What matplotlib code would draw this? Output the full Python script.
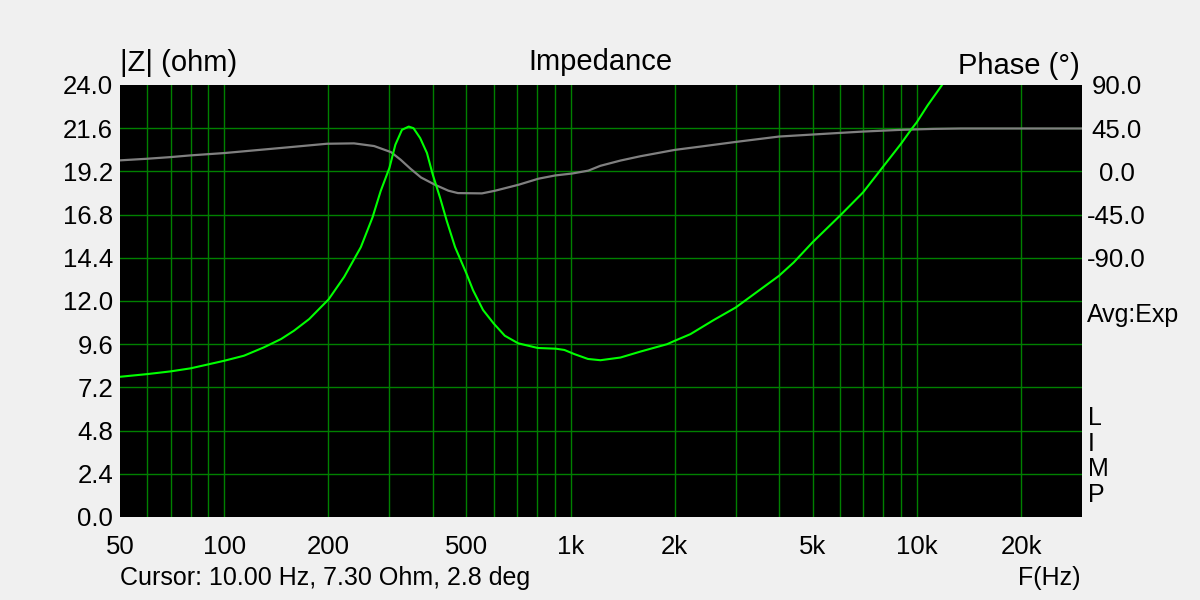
import numpy as np
import matplotlib
matplotlib.use('Agg')
from matplotlib import pyplot as plt

plt.rcParams['font.family'] = ['Liberation Sans', 'DejaVu Sans']

# impedance magnitude |Z| (ohm)
z_freq = [50, 60, 70, 80, 89, 100, 114, 130, 146, 159, 176, 190, 200, 222,
          248, 268, 283, 300, 312, 326, 341, 352, 368, 385, 400, 420, 439,
          464, 500, 523, 559, 600, 646, 706, 804, 908, 960, 1026, 1123, 1220,
          1394, 1592, 1900, 2000, 2220, 2590, 3000, 3470, 4000, 4410, 5000,
          6000, 7000, 8000, 9000, 9620, 10000, 10740, 11800]
z_ohm = [7.79, 7.94, 8.09, 8.26, 8.46, 8.68, 8.96, 9.42, 9.89, 10.35, 11.0,
         11.65, 12.08, 13.34, 14.99, 16.64, 18.11, 19.4, 20.68, 21.51, 21.69,
         21.6, 21.05, 20.22, 19.03, 17.74, 16.46, 15.0, 13.55, 12.6, 11.5,
         10.75, 10.07, 9.65, 9.39, 9.35, 9.28, 9.05, 8.78, 8.71, 8.86, 9.19,
         9.6, 9.79, 10.16, 10.94, 11.64, 12.53, 13.4, 14.14, 15.26, 16.74,
         18.04, 19.47, 20.73, 21.51, 21.93, 22.86, 23.97]

# phase (deg)
ph_freq = [50, 60, 70, 80, 100, 122, 152, 198, 237, 271, 303, 323, 345, 370,
           406, 444, 473, 555, 606, 708, 808, 904, 1011, 1126, 1219, 1394,
           1592, 2000, 2380, 3000, 4000, 5000, 6000, 7000, 9000, 11200, 13400,
           30000]
ph_deg = [11.5, 13.2, 14.9, 16.7, 19.1, 21.9, 25.0, 28.8, 29.2, 26.4, 20.1,
          12.2, 2.8, -6.3, -13.9, -20.1, -22.6, -22.9, -20.1, -13.9, -7.6,
          -4.2, -2.2, 0.8, 5.8, 11.3, 15.8, 22.4, 25.9, 30.7, 36.3, 38.4,
          40.1, 41.5, 43.3, 44.3, 44.7, 44.7]

x_grid = [60, 70, 80, 90, 100, 200, 300, 400, 500, 600, 700, 800, 900,
          1000, 2000, 3000, 4000, 5000, 6000, 7000, 8000, 9000, 10000, 20000]
x_ticks = [50, 100, 200, 500, 1000, 2000, 5000, 10000, 20000]
x_labels = ['50', '100', '200', '500', '1k', '2k', '5k', '10k', '20k']
z_ticks = np.arange(0, 24.01, 2.4)
ph_ticks = [90, 45, 0, -45, -90]
ph_labels = ['90.0', '45.0', '0.0', '-45.0', '-90.0']
ph_grid = np.arange(-315, 90, 45)

bg = '#f0f0f0'
grid_col = '#008000'
fs_tick = 18.5
fs_head = 21
fs_note = 18

fig = plt.figure(figsize=(12, 6), dpi=100, facecolor=bg)
ax = fig.add_axes([120 / 1200, 83 / 600, 962 / 1200, 432 / 600])
ax2 = ax.twinx()

# phase axis sits behind, carries the black background and the grid
ax.set_zorder(2)
ax.patch.set_visible(False)
ax2.patch.set_visible(True)
ax2.set_facecolor('black')

ax.set_xscale('log')
ax.set_xlim(50, 30000)
ax.set_ylim(0, 24)
ax2.set_ylim(-360, 90)

ax.set_xticks(x_ticks)
ax.set_xticklabels(x_labels)
ax.xaxis.set_minor_locator(matplotlib.ticker.NullLocator())
ax.set_yticks(z_ticks)
ax.set_yticklabels(['%.1f' % v for v in z_ticks])
ax.tick_params(axis='both', length=0, labelsize=fs_tick, colors='black')
ax.tick_params(axis='x', pad=13)
ax.tick_params(axis='y', pad=5)

ax2.set_yticks(ph_ticks)
ax2.set_yticklabels(ph_labels)
ax2.tick_params(axis='y', length=0, labelsize=fs_tick, pad=25)
for t in ax2.get_yticklabels():
    t.set_horizontalalignment('center')

# grid lines inside the frame only, behind both curves
for xv in x_grid:
    ax2.axvline(xv, color=grid_col, lw=1.0, zorder=1)
for pv in ph_grid:
    ax2.axhline(pv, color=grid_col, lw=1.0, zorder=1)

for a in (ax, ax2):
    for s in a.spines.values():
        s.set_visible(False)

ax2.plot(ph_freq, ph_deg, color='#808080', lw=1.6, zorder=3)
ax.plot(z_freq, z_ohm, color='#00ff00', lw=1.5, zorder=4)

fig.text(120 / 1200, 1 - 63 / 600, '|Z| (ohm)', fontsize=fs_head, va='center', ha='left')
fig.text(600 / 1200, 1 - 62 / 600, 'Impedance', fontsize=fs_head, va='center', ha='center')
fig.text(1080 / 1200, 1 - 66 / 600, 'Phase (°)', fontsize=fs_head, va='center', ha='right')
fig.text(1087 / 1200, 1 - 315 / 600, 'Avg:Exp', fontsize=fs_note, va='center', ha='left')
for i, ch in enumerate('LIMP'):
    fig.text(1088 / 1200, 1 - (418 + 25.7 * i) / 600, ch, fontsize=fs_note,
             va='center', ha='left')
fig.text(120 / 1200, 1 - 578 / 600, 'Cursor: 10.00 Hz, 7.30 Ohm, 2.8 deg',
         fontsize=fs_note, va='center', ha='left')
fig.text(1080 / 1200, 1 - 578 / 600, 'F(Hz)', fontsize=fs_note, va='center', ha='right')

fig.savefig('out.png', dpi=100, facecolor=bg)
